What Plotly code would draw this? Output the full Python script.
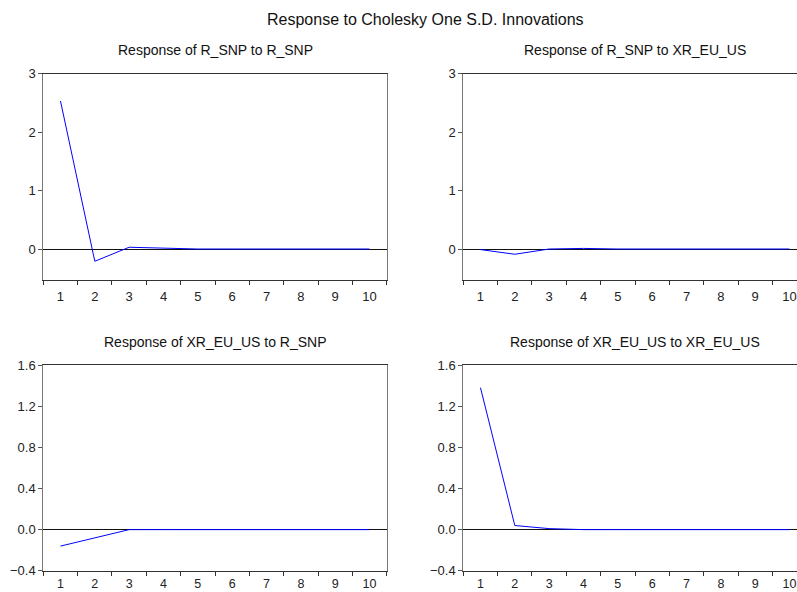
import plotly.graph_objects as go

periods = ["1", "2", "3", "4", "5", "6", "7", "8", "9", "10"]
r_snp_to_r_snp = [2.53, -0.21, 0.03, 0.01, 0.0, 0.0, 0.0, 0.0, 0.0, 0.0]
r_snp_to_xr = [-0.01, -0.09, 0.0, 0.01, 0.0, 0.0, 0.0, 0.0, 0.0, 0.0]
xr_to_r_snp = [-0.16, -0.08, 0.0, 0.0, 0.0, 0.0, 0.0, 0.0, 0.0, 0.0]
xr_to_xr = [1.38, 0.04, 0.01, 0.0, 0.0, 0.0, 0.0, 0.0, 0.0, 0.0]

main_title = "Response to Cholesky One S.D. Innovations"
titles = [
    "Response of R_SNP to R_SNP",
    "Response of R_SNP to XR_EU_US",
    "Response of XR_EU_US to R_SNP",
    "Response of XR_EU_US to XR_EU_US",
]
top_ticks = [0, 1, 2, 3]
bottom_ticks = [-0.4, 0.0, 0.4, 0.8, 1.2, 1.6]

W, H = 797, 592
FONT = "Liberation Sans, Arial, sans-serif"

# pixel geometry -> paper fractions
xl = [43.3 / W, 386.7 / W]
xr = [463.3 / W, 1.0]
yt = [1 - 280 / H, 1 - 73.5 / H]
yb = [1 - 570.8 / H, 1 - 365 / H]
right_range_end = -0.5 + (W - 463.3) / 34.34

fig = go.Figure()
series = [r_snp_to_r_snp, r_snp_to_xr, xr_to_r_snp, xr_to_xr]
for i, s in enumerate(series):
    n = "" if i == 0 else str(i + 1)
    fig.add_trace(go.Scatter(x=periods, y=s, mode="lines",
                             line=dict(color="#0000FF", width=1),
                             xaxis="x" + n, yaxis="y" + n, showlegend=False,
                             hoverinfo="skip"))

def xax(domain, anchor, rng, standoff, size):
    return dict(domain=domain, anchor=anchor, type="category", tickson="boundaries",
                range=rng, ticks="outside", ticklen=4, tickcolor="#333",
                showline=True, linecolor="#333", linewidth=1, mirror=True,
                showgrid=False, zeroline=False, automargin=False,
                tickfont=dict(family=FONT, size=size, color="#222"),
                ticklabelstandoff=standoff)

def yax(domain, anchor, rng, tickvals, fmt):
    return dict(domain=domain, anchor=anchor, range=rng, tickvals=tickvals,
                tickformat=fmt, ticks="outside", ticklen=4, tickcolor="#555",
                showline=True, linecolor="#777", linewidth=1, mirror=True,
                showgrid=False, zeroline=True, zerolinecolor="#111", zerolinewidth=1,
                automargin=False, tickfont=dict(family=FONT, size=13, color="#222"))

fig.update_layout(
    width=W, height=H,
    margin=dict(l=0, r=0, t=0, b=0),
    paper_bgcolor="white", plot_bgcolor="white",
    template="none",
    xaxis=xax(xl, "y", [-0.5, 9.5], 4, 13),
    yaxis=yax(yt, "x", [-0.53, 3.0], top_ticks, "d"),
    xaxis2=xax(xr, "y2", [-0.5, right_range_end], 4, 13),
    yaxis2=yax(yt, "x2", [-0.53, 3.0], top_ticks, "d"),
    xaxis3=xax(xl, "y3", [-0.5, 9.5], 1, 12.5),
    yaxis3=yax(yb, "x3", [-0.4, 1.6], bottom_ticks, ".1f"),
    xaxis4=xax(xr, "y4", [-0.5, right_range_end], 1, 12.5),
    yaxis4=yax(yb, "x4", [-0.4, 1.6], bottom_ticks, ".1f"),
)

fig.add_annotation(text=main_title, x=425 / W, y=1 - 20 / H, xref="paper", yref="paper",
                   showarrow=False, xanchor="center", yanchor="middle",
                   font=dict(family=FONT, size=16, color="#111"))
centers = [(215, 50), (635, 50), (215, 342), (635, 342)]
for t, (cx, cy) in zip(titles, centers):
    fig.add_annotation(text=t, x=cx / W, y=1 - cy / H, xref="paper", yref="paper",
                       showarrow=False, xanchor="center", yanchor="middle",
                       font=dict(family=FONT, size=14, color="#111"))

fig.write_html("out.html")
